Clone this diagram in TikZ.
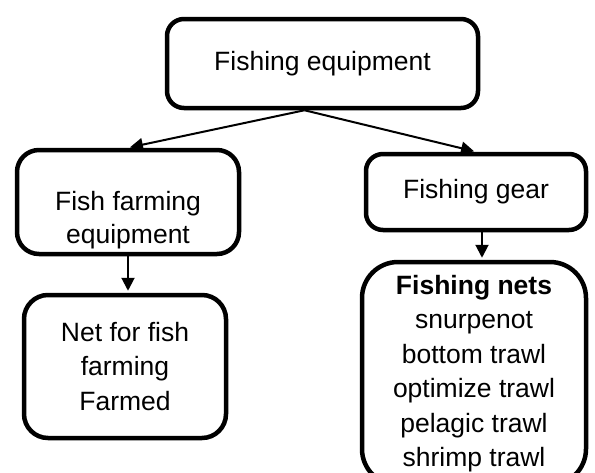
\documentclass[tikz,border=0pt]{standalone}
\usepackage{fontspec}
\setmainfont{Liberation Sans}
\usepackage{tikz}
\usetikzlibrary{arrows.meta, calc, positioning}

\tikzset{
	box/.style={draw, line width=4.5pt, rounded corners=17pt, align=center, inner sep=0pt,
		font=\fontsize{26.5}{33}\selectfont},
	arr/.style={-{Triangle[length=13pt,width=13pt]}, line width=2pt, shorten >=2pt}
}

\begin{document}
\begin{tikzpicture}[x=1pt,y=1pt]
	\useasboundingbox (0,0) rectangle (595,-472);
	
	\node(equip) [box, minimum width=311pt, minimum height=89pt] at (322.5,-63.5) {Fishing equipment};
	
	\node(farm) [box, minimum width=222pt, minimum height=104pt, rounded corners=22pt] at (128,-202) {\strut\\Fish farming\\equipment};
	\node(gear) [box, minimum width=220pt, minimum height=76pt] at (476,-192) {Fishing gear};
	
	\node(farmnet) [box, minimum width=202pt, minimum height=143pt, rounded corners=24pt,
		font=\fontsize{26.5}{34.5}\selectfont] at (125,-366.5) {Net for fish\\farming\\Farmed};
	\node(nets) [box, minimum width=224pt, minimum height=223pt, rounded corners=36pt,
		font=\fontsize{26.5}{34.5}\selectfont] at (474,-373.5) {\textbf{Fishing nets}\\snurpenot\\bottom trawl\\optimize trawl\\pelagic trawl\\shrimp trawl};
	
	\draw[arr] ([xshift=-18pt]equip.south) -- (farm.north);
	\draw[arr] ([xshift=-18pt]equip.south) -- (gear.north);
	\draw[arr] (farm.south) -- (farm.south |- farmnet.north);
	\draw[arr] ([xshift=6pt]gear.south) -- ([xshift=6pt]gear.south |- nets.north);
	
\end{tikzpicture}
\end{document}
